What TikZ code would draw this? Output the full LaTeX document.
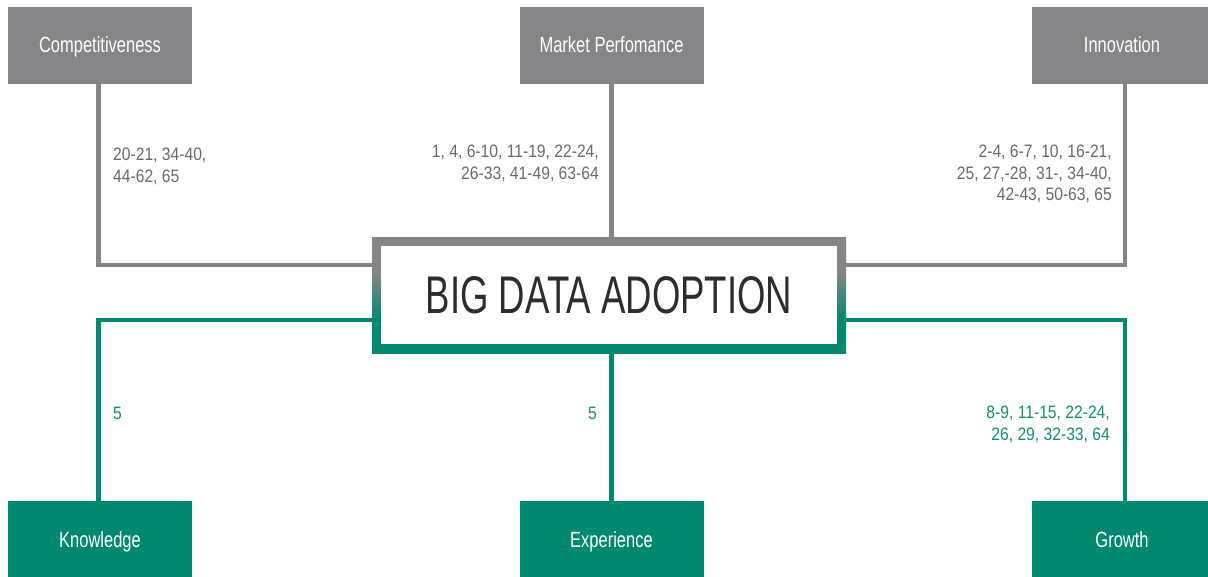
\documentclass[tikz,border=0pt]{standalone}
\usepackage{fontspec}
\setmainfont{Liberation Sans}
\newfontfamily\numfont{Liberation Sans}[FakeStretch=0.87]
\newfontfamily\boxfont{Liberation Sans}[FakeStretch=0.75]
\newfontfamily\titlefont{Liberation Sans}[FakeStretch=0.69]
\usetikzlibrary{backgrounds}
\definecolor{bgray}{RGB}{133,133,135}
\definecolor{bgreen}{RGB}{0,137,110}
\definecolor{tgray}{RGB}{105,105,107}
\definecolor{tgreen}{RGB}{20,140,112}
\definecolor{titlegray}{RGB}{45,45,45}
\pgfdeclareverticalshading{bordershade}{100bp}{color(0bp)=(bgreen); color(39bp)=(bgreen); color(60bp)=(bgray); color(100bp)=(bgray)}
\begin{document}
\begin{tikzpicture}[x=1pt,y=-1pt,
  topbox/.style={fill=bgray, text=white, minimum width=184pt, minimum height=77pt, inner sep=0pt, text height=15.8pt, text depth=0pt, font=\boxfont\fontsize{22}{26}\selectfont},
  botbox/.style={fill=bgreen, text=white, minimum width=184pt, minimum height=77pt, inner sep=0pt, text height=15.8pt, text depth=0pt, font=\boxfont\fontsize{22}{26}\selectfont},
  gline/.style={draw=bgray, line width=4.7pt},
  eline/.style={draw=bgreen, line width=4.7pt},
  numlab/.style={inner sep=0pt, font=\numfont\fontsize{18}{21.3}\selectfont}]
\useasboundingbox (0,0) rectangle (1208,576);
\node[topbox] (comp) at (100,45) {Competitiveness};
\node[topbox] (market) at (611.5,45) {Market Perfomance};
\node[topbox, minimum width=180pt] (innov) at (1122,45) {Innovation};
\node[botbox] (know) at (100,539.5) {Knowledge};
\node[botbox] (exp) at (611.5,539.5) {Experience};
\node[botbox, minimum width=180pt] (growth) at (1122,539.5) {Growth};
\node[shade, shading=bordershade, minimum width=474pt, minimum height=116pt, inner sep=0pt] (core) at (609,295) {};
\node[fill=white, minimum width=456pt, minimum height=98pt, inner sep=0pt, text=titlegray, font=\titlefont\fontsize{53}{60}\selectfont] (title) at (core) {BIG DATA ADOPTION};
\begin{scope}[on background layer]
\draw[gline] ([xshift=-1.5pt]comp.south) |- ([yshift=30pt]core.west);
\draw[gline] (market.south) -- (market.south |- core.north);
\draw[gline] ([xshift=3pt]innov.south) |- ([yshift=30pt]core.east);
\draw[eline] ([xshift=-1.5pt]know.north) |- ([yshift=-25pt]core.west);
\draw[eline] (exp.north) -- (exp.north |- core.south);
\draw[eline] ([xshift=3pt]growth.north) |- ([yshift=-25pt]core.east);
\end{scope}
\node[numlab, text=tgray, anchor=north west, align=left] (l1) at (113,148) {20-21, 34-40,\\44-62, 65};
\node[numlab, text=tgray, anchor=north east, align=right] (l2) at (599,145) {1, 4, 6-10, 11-19, 22-24,\\26-33, 41-49, 63-64};
\node[numlab, text=tgray, anchor=north east, align=right] (l3) at (1112,145) {2-4, 6-7, 10, 16-21,\\25, 27,-28, 31-, 34-40,\\42-43, 50-63, 65};
\node[numlab, text=tgreen, anchor=base west] (l4) at (113,419) {5};
\node[numlab, text=tgreen, anchor=base west] (l5) at (588,419) {5};
\node[numlab, text=tgreen, anchor=north east, align=right] (l6) at (1110,406) {8-9, 11-15, 22-24,\\26, 29, 32-33, 64};
\end{tikzpicture}
\end{document}
